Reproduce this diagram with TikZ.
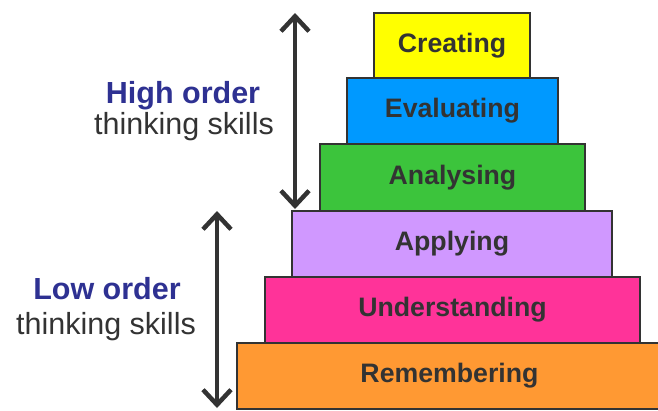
\documentclass[tikz,border=0pt]{standalone}
\usepackage{fontspec}
\setmainfont{Liberation Sans}
\usetikzlibrary{arrows.meta}
\definecolor{txt}{HTML}{333333}
\definecolor{navy}{HTML}{2E3192}
\definecolor{cyel}{HTML}{FFFF00}
\definecolor{cblu}{HTML}{0099FF}
\definecolor{cgrn}{HTML}{3CC43C}
\definecolor{cpur}{HTML}{D098FF}
\definecolor{cpnk}{HTML}{FF3399}
\definecolor{corg}{HTML}{FF9933}
\tikzset{
  level/.style={draw=txt, line width=1.6pt, text=txt, inner sep=0pt,
    font=\fontsize{26.7}{30}\selectfont\bfseries},
  bigarrow/.style={draw=txt, line width=4.5pt,
    {Straight Barb[length=15pt,width=28pt]}-{Straight Barb[length=15pt,width=28pt]}},
  headlab/.style={text=navy, font=\fontsize{30.5}{34}\selectfont\bfseries, inner sep=0pt, anchor=base},
  sublab/.style={text=txt, font=\fontsize{30.5}{34}\selectfont, inner sep=0pt, anchor=base}
}
\begin{document}
\begin{tikzpicture}[x=1pt,y=-1pt]
\useasboundingbox (0,0) rectangle (658,410);
\clip (0,0) rectangle (658,410);
\fill[white] (0,0) rectangle (658,410);
% levels (corners in pixel coordinates)
\newcommand{\lvl}[7]{%
  \node[level, fill=#6, minimum width={(#3-#2)*1pt}, minimum height={(#5-#4)*1pt}]
    (#1) at ({(#2+#3)/2},{(#4+#5)/2}) {#7};}
\lvl{cre}{374}{530}{13}{78}{cyel}{Creating}
\lvl{eva}{347}{558}{78}{144}{cblu}{Evaluating}
\lvl{ana}{320}{585}{144}{211}{cgrn}{Analysing}
\lvl{app}{292}{612}{211}{277}{cpur}{Applying}
\lvl{und}{265}{640}{277}{343}{cpnk}{Understanding}
\lvl{rem}{237}{662}{343}{409}{corg}{Remembering}
% arrows
\coordinate (hitop) at (295,13);
\coordinate (hibot) at (295,209);
\coordinate (lotop) at (217,211);
\coordinate (lobot) at (217,408);
\draw[bigarrow] (hitop) -- (hibot);
\draw[bigarrow] (lotop) -- (lobot);
% labels
\node[headlab] (hi) at (183,103) {High order};
\node[sublab] (hisub) at (184,134) {thinking skills};
\node[headlab] (lo) at (107,299) {Low order};
\node[sublab] (losub) at (106,334) {thinking skills};
\end{tikzpicture}
\end{document}
